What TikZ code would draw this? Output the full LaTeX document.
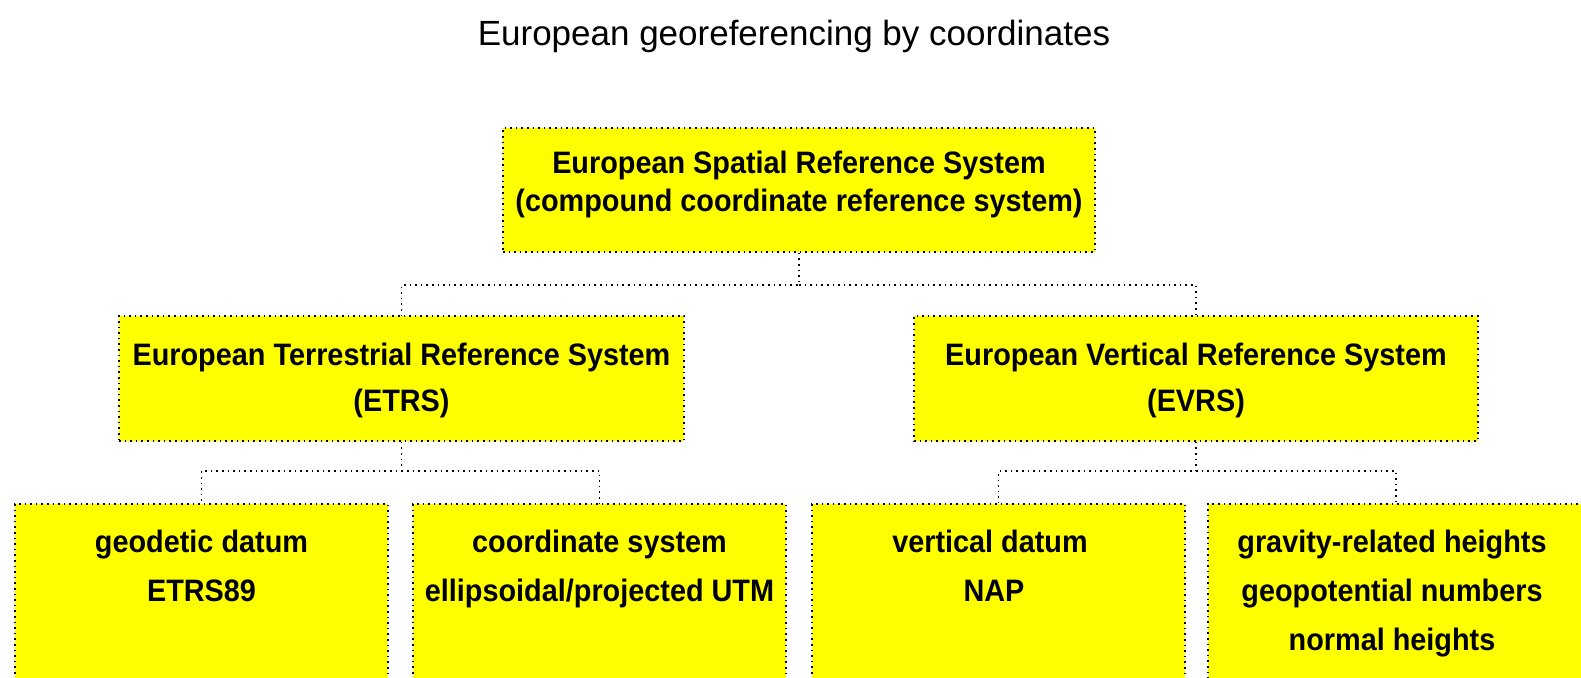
\documentclass[tikz,border=0pt]{standalone}
\usepackage{fontspec}
\setmainfont{Liberation Sans}
\newfontfamily\boxfont[FakeStretch=0.93]{Liberation Sans}
\usetikzlibrary{calc}
\definecolor{boxyellow}{RGB}{255,255,0}
\begin{document}
\begin{tikzpicture}[x=0.5pt,y=-0.5pt,
  ybox/.style={draw=black, dotted, line width=0.8pt, fill=boxyellow, inner sep=0pt, rectangle},
  conn/.style={draw=black, dotted, line width=0.8pt},
  lbl/.style={anchor=base, inner sep=0pt, font=\boxfont\bfseries\fontsize{15.5}{18}\selectfont},
  ttl/.style={anchor=base, inner sep=0pt, font=\fontsize{17.5}{20}\selectfont}]
\useasboundingbox (0,0) rectangle (1581,677);
\clip (0,0) rectangle (1581,677);
\fill[white] (0,0) rectangle (1581,677);

\node[ttl] (title) at (794,45) {European georeferencing by coordinates};

% boxes
\node[ybox, minimum width=592*0.5pt, minimum height=124*0.5pt] (top) at (799,190) {};
\node[ybox, minimum width=565*0.5pt, minimum height=125*0.5pt] (midL) at (401.5,378.5) {};
\node[ybox, minimum width=564*0.5pt, minimum height=125*0.5pt] (midR) at (1196,378.5) {};
\node[ybox, minimum width=373*0.5pt, minimum height=206*0.5pt] (b1) at (201.5,607) {};
\node[ybox, minimum width=373*0.5pt, minimum height=206*0.5pt] (b2) at (599.5,607) {};
\node[ybox, minimum width=373*0.5pt, minimum height=206*0.5pt] (b3) at (998.5,607) {};
\node[ybox, minimum width=376*0.5pt, minimum height=206*0.5pt] (b4) at (1396,607) {};

% labels
\node[lbl] (t1a) at (799,173) {European Spatial Reference System};
\node[lbl] (t1b) at (799,211) {(compound coordinate reference system)};
\node[lbl] (t2a) at (401.5,365) {European Terrestrial Reference System};
\node[lbl] (t2b) at (401.5,411) {(ETRS)};
\node[lbl] (t3a) at (1196,365) {European Vertical Reference System};
\node[lbl] (t3b) at (1196,411) {(EVRS)};
\node[lbl] (b1a) at (201.5,552) {geodetic datum};
\node[lbl] (b1b) at (201.5,601) {ETRS89};
\node[lbl] (b2a) at (599.5,552) {coordinate system};
\node[lbl] (b2b) at (599.5,601) {ellipsoidal/projected UTM};
\node[lbl] (b3a) at (990,552) {vertical datum};
\node[lbl] (b3b) at (994,601) {NAP};
\node[lbl] (b4a) at (1392,552) {gravity-related heights};
\node[lbl] (b4b) at (1392,601) {geopotential numbers};
\node[lbl] (b4c) at (1392,650) {normal heights};

% connectors
\coordinate (j1) at (797,285);
\coordinate (j2) at (401.5,471);
\coordinate (j3) at (1196,471);
\draw[conn] (top.south) -- (top.south |- j1) -| (midL.north);
\draw[conn] (top.south |- j1) -| (midR.north);
\draw[conn] (midL.south) -- (midL.south |- j2) -| (b1.north);
\draw[conn] (midL.south |- j2) -| (b2.north);
\draw[conn] (midR.south) -- (midR.south |- j3) -| (b3.north);
\draw[conn] (midR.south |- j3) -| (b4.north);
\end{tikzpicture}
\end{document}
